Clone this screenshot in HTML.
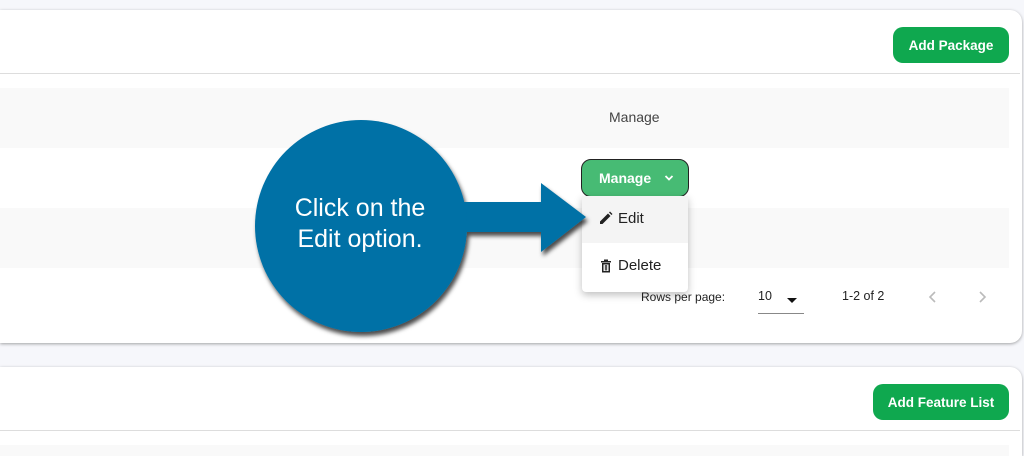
<!DOCTYPE html>
<html><head><style>
html,body{margin:0;width:1024px;height:456px;overflow:hidden}
body{background:#f6f7fb;position:relative;font-family:"Liberation Sans",sans-serif}
.a{position:absolute}
.card{background:#fff;border-radius:0 12px 12px 0;box-shadow:0 1px 3px rgba(0,0,0,.35)}
.btn{background:#0fa84f;color:#fff;font-weight:bold;font-size:13.5px;border-radius:10px;display:flex;align-items:center;justify-content:center}
.row{background:#f9f9f9}
.t{font-size:14px;color:#333}
</style></head><body>
<div class="a card" style="left:0;top:10px;width:1022px;height:333px"></div>
<div class="a" style="left:0;top:73px;width:1020px;height:1px;background:#ddd"></div>
<div class="a btn" style="left:893px;top:27px;width:116px;height:36px">Add Package</div>
<div class="a row" style="left:0;top:88px;width:1009px;height:60px"></div>
<div class="a t" style="left:609px;top:109px;color:#444">Manage</div>
<div class="a row" style="left:0;top:208px;width:1009px;height:60px"></div>
<div class="a btn" style="left:581px;top:159px;background:#47bb74;border:1.5px solid #222;font-size:14px;justify-content:flex-start;padding-left:17px;box-sizing:border-box;width:108px;height:38px">Manage
<svg width="10" height="8" style="margin-left:13px"><path d="M1.5 2 L5 5.5 L8.5 2" stroke="#fff" stroke-width="1.8" fill="none"/></svg></div>
<div class="a" style="left:582px;top:196px;width:106px;height:96px;background:#fff;box-shadow:0 3px 8px rgba(0,0,0,.25);border-radius:0 0 4px 4px">
<div style="height:47px;background:#f4f4f4;font-size:15px;color:#222;line-height:45px;position:relative">
<svg width="14" height="14" style="position:absolute;left:17px;top:15px"><path d="M1 13 L1 10.5 L9 2.5 L11.5 5 L3.5 13 Z M10 1.5 L11 0.5 L13.5 3 L12.5 4 Z" fill="#222"/></svg>
<span style="position:absolute;left:36px">Edit</span></div>
<div style="height:49px;font-size:15px;color:#222;line-height:45px;position:relative">
<svg width="12" height="14" style="position:absolute;left:18px;top:16px"><path d="M1 2h10v1.5H1z M4 0.5h4v1.5H4z M2 4h8v9.5H2z" fill="#222"/><path d="M3.5 5.5v6.5h5V5.5z" fill="#fff"/><path d="M5.3 6v5.5M6.7 6v5.5" stroke="#222" stroke-width="0.9"/></svg>
<span style="position:absolute;left:36px">Delete</span></div>
</div>
<div class="a" style="left:641px;top:290px;font-size:12px;color:#222">Rows per page:</div>
<div class="a" style="left:758px;top:289px;font-size:12.5px;color:#222">10</div>
<div class="a" style="left:787px;top:298px;width:0;height:0;border-left:5px solid transparent;border-right:5px solid transparent;border-top:5px solid #111"></div>
<div class="a" style="left:758px;top:313px;width:46px;height:1px;background:#888"></div>
<div class="a" style="left:842px;top:289px;font-size:12.5px;color:#222">1-2 of 2</div>
<svg class="a" style="left:927px;top:290px" width="70" height="14"><path d="M8 2 L3 7 L8 12" stroke="#bbb" stroke-width="1.6" fill="none"/><path d="M53 2 L58 7 L53 12" stroke="#bbb" stroke-width="1.6" fill="none"/></svg>
<div class="a card" style="left:0;top:367px;width:1022px;height:89px;border-radius:0 12px 0 0"></div>
<div class="a" style="left:0;top:430px;width:1020px;height:1px;background:#ddd"></div>
<div class="a btn" style="left:873px;top:384px;width:136px;height:36px">Add Feature List</div>
<div class="a row" style="left:0;top:445px;width:1009px;height:11px"></div>
<svg class="a" style="left:0;top:0" width="1024" height="456">
<defs><filter id="s" x="-20%" y="-20%" width="140%" height="140%"><feDropShadow dx="2" dy="4" stdDeviation="2" flood-color="#000" flood-opacity=".7"/></filter></defs>
<g filter="url(#s)" fill="#0271a6">
<polygon points="455,202 541,202 541,183 586,217 541,252 541,232 455,232"/>
<circle cx="361" cy="226" r="106"/>
</g>
<text x="360" y="216" text-anchor="middle" fill="#fff" font-size="25" font-family="Liberation Sans">Click on the</text>
<text x="360" y="247" text-anchor="middle" fill="#fff" font-size="25" font-family="Liberation Sans">Edit option.</text>
</svg>
</body></html>
